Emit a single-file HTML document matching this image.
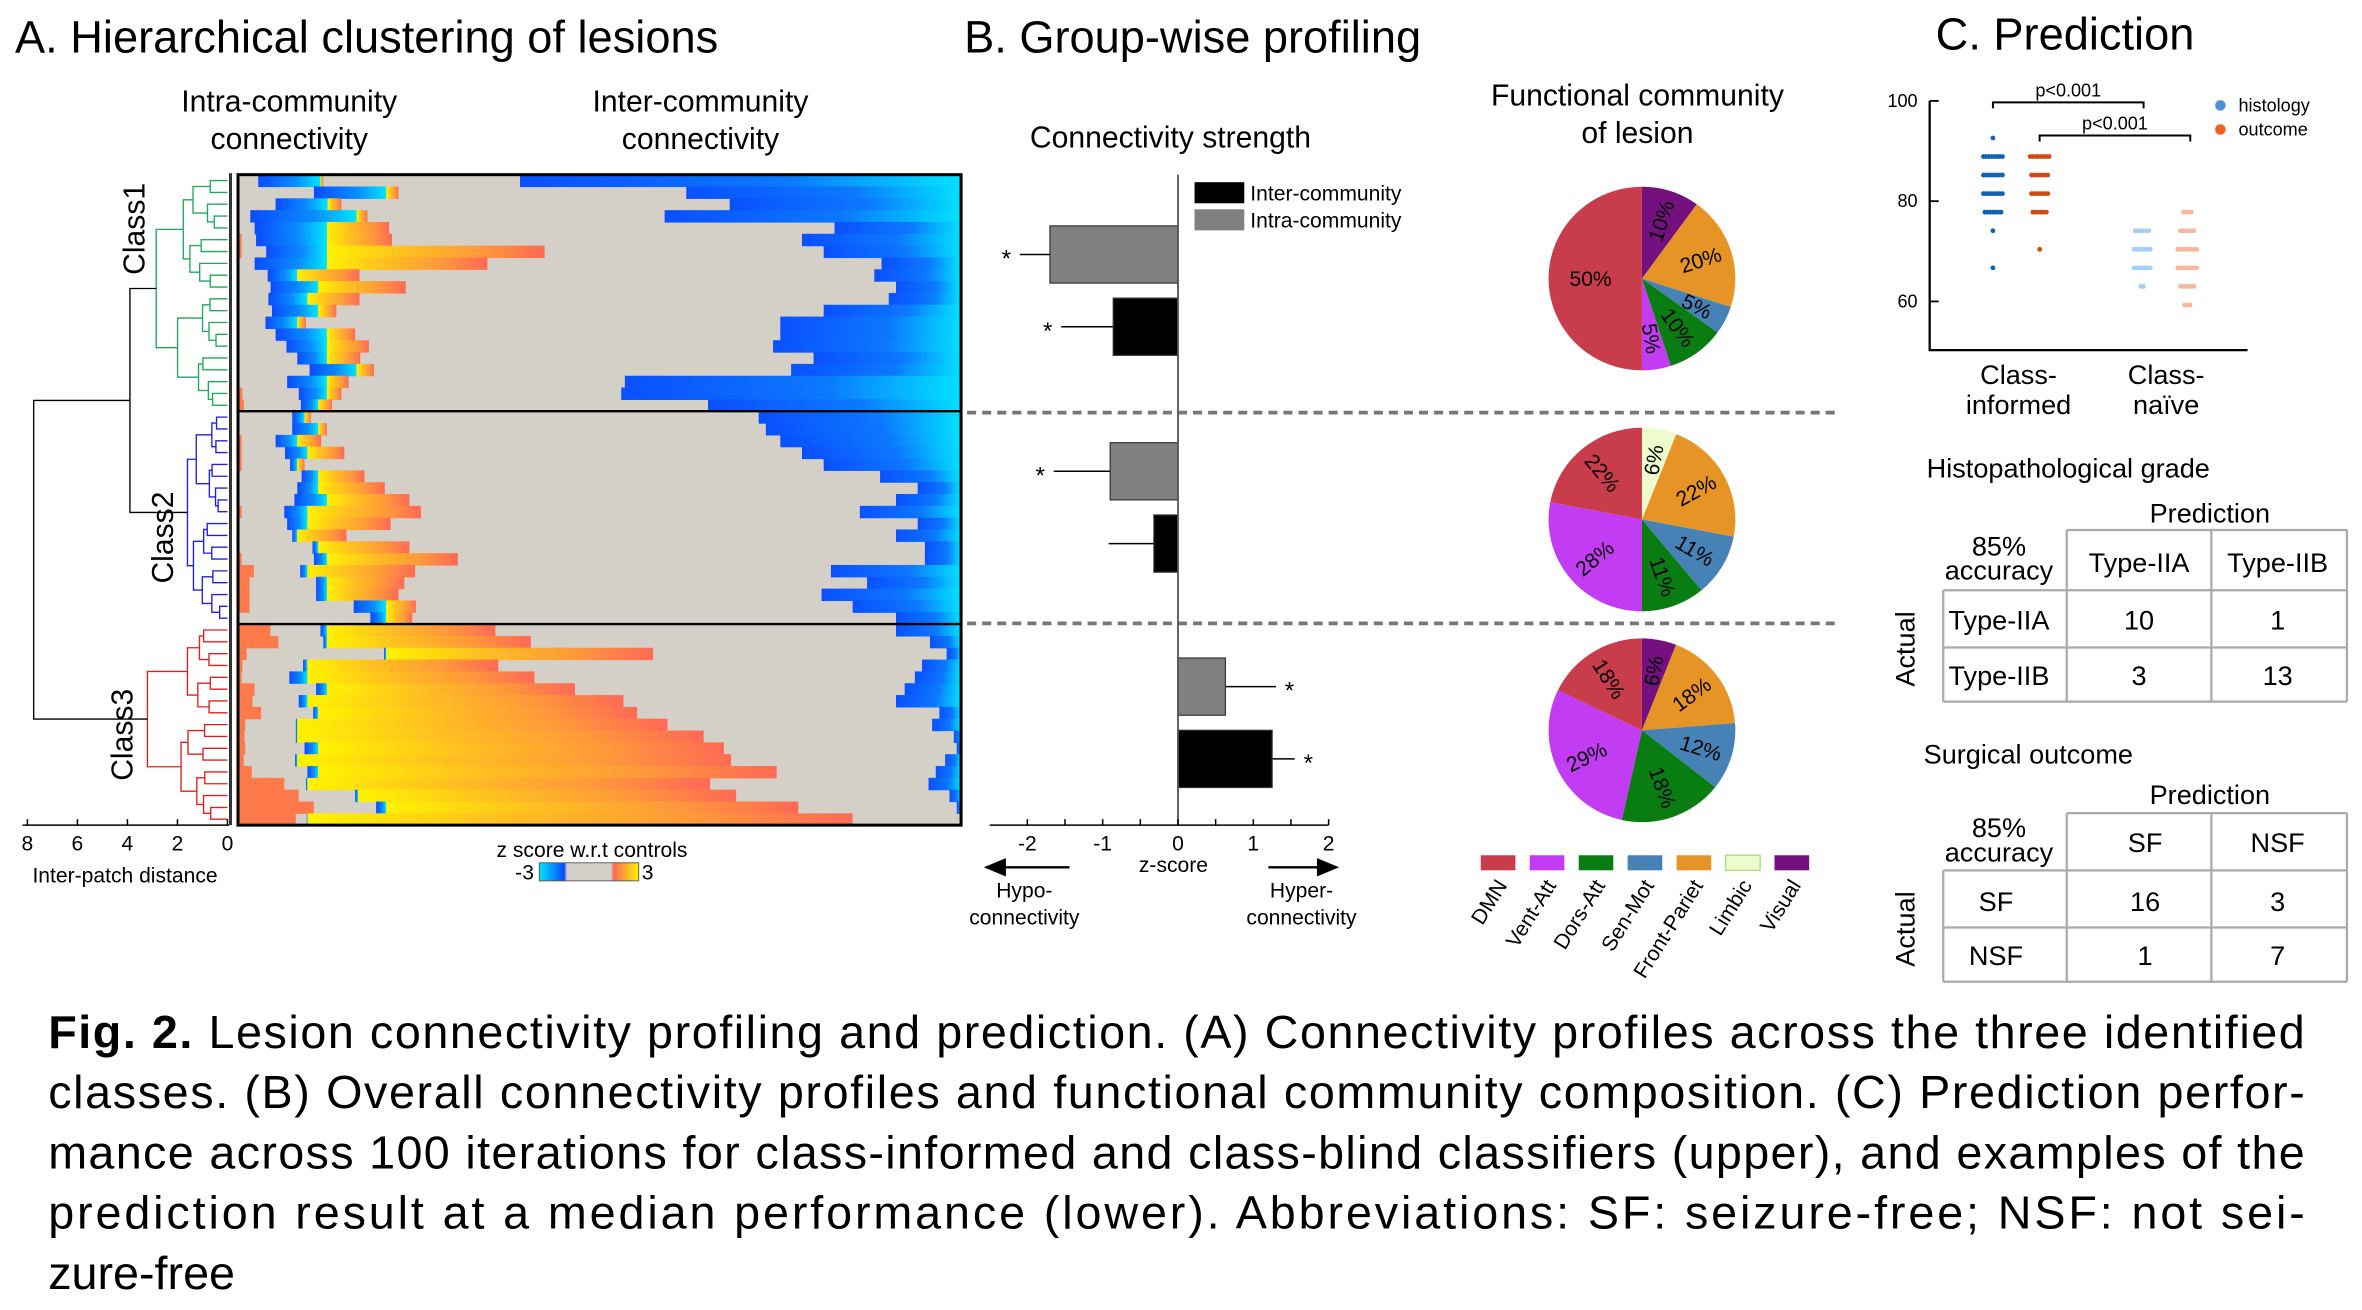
<!DOCTYPE html>
<html><head><meta charset="utf-8"><style>
html,body{margin:0;padding:0;background:#fff;}
svg{display:block;font-family:"Liberation Sans",Arial,sans-serif;}
</style></head><body>
<svg id="fig" xmlns="http://www.w3.org/2000/svg" width="2362" height="1310" viewBox="0 0 1568 870" preserveAspectRatio="none">
<defs>
<linearGradient id="gBlueIntra" x1="0" x2="1" y1="0" y2="0"><stop offset="0" stop-color="#0a4cff"/><stop offset="0.6" stop-color="#0a8cff"/><stop offset="1" stop-color="#00e6ff"/></linearGradient>
<linearGradient id="gBlueInter" x1="0" x2="1" y1="0" y2="0"><stop offset="0" stop-color="#0a50ff"/><stop offset="0.6" stop-color="#0c78ff"/><stop offset="1" stop-color="#00e2ff"/></linearGradient>
<linearGradient id="gHot" x1="0" x2="1" y1="0" y2="0"><stop offset="0" stop-color="#fff200"/><stop offset="0.35" stop-color="#ffc020"/><stop offset="0.7" stop-color="#ff9a3a"/><stop offset="1" stop-color="#ff6a55"/></linearGradient>
<linearGradient id="gBar" x1="0" x2="1" y1="0" y2="0"><stop offset="0" stop-color="#00e6ff"/><stop offset="0.25" stop-color="#0a4cff"/><stop offset="0.28" stop-color="#d4d0c8"/><stop offset="0.72" stop-color="#d4d0c8"/><stop offset="0.75" stop-color="#ff6a55"/><stop offset="1" stop-color="#fff200"/></linearGradient>
</defs>
<g id="panelA">
<text x="10" y="35" font-size="30">A. Hierarchical clustering of lesions</text>
<text x="192" y="74" font-size="20" text-anchor="middle">Intra-community</text>
<text x="192" y="99" font-size="20" text-anchor="middle">connectivity</text>
<text x="465" y="74" font-size="20" text-anchor="middle">Inter-community</text>
<text x="465" y="99" font-size="20" text-anchor="middle">connectivity</text>
<g id="heatmap"></g>
<g id="dendro"></g>
<line x1="15" y1="548" x2="152" y2="548" stroke="#000" stroke-width="1"/>
<line x1="153" y1="115" x2="153" y2="548" stroke="#333" stroke-width="2"/>
<g id="dendroTicks"></g>
<text x="83" y="586" font-size="14" text-anchor="middle">Inter-patch distance</text>
<text transform="translate(96,152) rotate(-90)" font-size="20" text-anchor="middle">Class1</text>
<text transform="translate(115,357) rotate(-90)" font-size="20" text-anchor="middle">Class2</text>
<text transform="translate(88,488) rotate(-90)" font-size="20" text-anchor="middle">Class3</text>
<text x="393" y="569" font-size="14" text-anchor="middle">z score w.r.t controls</text>
<text x="342" y="584" font-size="14">-3</text>
<rect x="358" y="573" width="66" height="12" fill="url(#gBar)" stroke="#555" stroke-width="0.6"/>
<text x="426" y="584" font-size="14">3</text>
</g>
<g id="panelB">
<text x="640" y="35" font-size="30">B. Group-wise profiling</text>
<text x="777" y="98" font-size="20" text-anchor="middle">Connectivity strength</text>
<line x1="642" y1="274" x2="1222" y2="274" stroke="#777" stroke-width="2.5" stroke-dasharray="6,4"/>
<line x1="642" y1="414" x2="1222" y2="414" stroke="#777" stroke-width="2.5" stroke-dasharray="6,4"/>
<g id="bars"></g>
<rect x="793" y="121" width="33" height="14" fill="#000"/>
<text x="830" y="133" font-size="14">Inter-community</text>
<rect x="793" y="139" width="33" height="14" fill="#808080"/>
<text x="830" y="151" font-size="14">Intra-community</text>
<text x="779" y="579" font-size="14" text-anchor="middle">z-score</text>
<path d="M710,576 L664,576 M655,576 L667,571 L667,581 Z" stroke="#000" stroke-width="1.5" fill="#000"/>
<path d="M842,576 L878,576 M887,576 L875,571 L875,581 Z" stroke="#000" stroke-width="1.5" fill="#000"/>
<text x="680" y="596" font-size="14" text-anchor="middle">Hypo-</text>
<text x="680" y="614" font-size="14" text-anchor="middle">connectivity</text>
<text x="864" y="596" font-size="14" text-anchor="middle">Hyper-</text>
<text x="864" y="614" font-size="14" text-anchor="middle">connectivity</text>
<text x="1087" y="70" font-size="20" text-anchor="middle">Functional community</text>
<text x="1087" y="95" font-size="20" text-anchor="middle">of lesion</text>
<g id="pies"></g>
<g id="pieLegend"></g>
</g>
<g id="panelC">
<text x="1285" y="33" font-size="30">C. Prediction</text>
<g id="dots"></g>
<text x="1340" y="255" font-size="18" text-anchor="middle">Class-</text>
<text x="1340" y="275" font-size="18" text-anchor="middle">informed</text>
<text x="1438" y="255" font-size="18" text-anchor="middle">Class-</text>
<text x="1438" y="275" font-size="18" text-anchor="middle">naïve</text>
<circle cx="1474" cy="70" r="3.5" fill="#4a90d8"/>
<text x="1486" y="74" font-size="12">histology</text>
<circle cx="1474" cy="86" r="3.5" fill="#f06020"/>
<text x="1486" y="90" font-size="12">outcome</text>
<text x="1279" y="317" font-size="18">Histopathological grade</text>
<g id="table1" font-size="18" text-anchor="middle">
<text x="1467" y="347">Prediction</text>
<path d="M1372,352 H1558 M1290,392 H1558 M1290,430 H1558 M1290,466 H1558 M1290,392 V466 M1372,352 V466 M1468,352 V466 M1558,352 V466" stroke="#aaa" stroke-width="1.5" fill="none"/>
<text x="1327" y="369">85%</text><text x="1327" y="385">accuracy</text>
<text x="1420" y="380">Type-IIA</text><text x="1512" y="380">Type-IIB</text>
<text x="1327" y="418">Type-IIA</text><text x="1420" y="418">10</text><text x="1512" y="418">1</text>
<text x="1327" y="455">Type-IIB</text><text x="1420" y="455">3</text><text x="1512" y="455">13</text>
<text transform="translate(1271,431) rotate(-90)">Actual</text>
</g>
<text x="1277" y="507" font-size="18">Surgical outcome</text>
<g id="table2" font-size="18" text-anchor="middle">
<text x="1467" y="534">Prediction</text>
<path d="M1372,540 H1558 M1290,578 H1558 M1290,616 H1558 M1290,652 H1558 M1290,578 V652 M1372,540 V652 M1468,540 V652 M1558,540 V652" stroke="#aaa" stroke-width="1.5" fill="none"/>
<text x="1327" y="556">85%</text><text x="1327" y="572">accuracy</text>
<text x="1424" y="566">SF</text><text x="1512" y="566">NSF</text>
<text x="1325" y="605">SF</text><text x="1424" y="605">16</text><text x="1512" y="605">3</text>
<text x="1325" y="641">NSF</text><text x="1424" y="641">1</text><text x="1512" y="641">7</text>
<text transform="translate(1271,617) rotate(-90)">Actual</text>
</g>
</g>
<g id="caption" font-size="31">
<text x="32" y="696" textLength="1498" lengthAdjust="spacing"><tspan font-weight="bold">Fig. 2.</tspan> Lesion connectivity profiling and prediction. (A) Connectivity profiles across the three identified</text>
<text x="32" y="736" textLength="1498" lengthAdjust="spacing">classes. (B) Overall connectivity profiles and functional community composition. (C) Prediction perfor-</text>
<text x="32" y="776" textLength="1498" lengthAdjust="spacing">mance across 100 iterations for class-informed and class-blind classifiers (upper), and examples of the</text>
<text x="32" y="816" textLength="1498" lengthAdjust="spacing">prediction result at a median performance (lower). Abbreviations: SF: seizure-free; NSF: not sei-</text>
<text x="32" y="856">zure-free</text>
</g>
</svg>
<script>
// ---------- Heatmap data (percent of heatmap width) ----------
const rowClass = [1,1,1,1,1,1,1,1,1,1,1,1,1,1,1,1,1,1,1,1, 2,2,2,2,2,2,2,2,2,2,2,2,2,2,2,2,2,2, 3,3,3,3,3,3,3,3,3,3,3,3,3,3,3,3,3];
const edgeHot = [0,0,0,0,0,0.5,0.5,0,0,0,0,0,0,0,0,0,0,0,0.6,0.8, 0,0,0.5,0.5,0.5,0,0,0,0.5,0,0,0,0.5,2.2,1.6,1.6,1.6,0, 4.5,5.6,1.2,0.6,0.5,2.3,2,3.2,1,0.9,1,0.8,1.9,6.4,8.4,10.5,8];
const intraBlueStart = [2.8,10.5,5.2,1.7,2.3,2.5,3.9,2.3,4.1,4.5,4.2,4.7,3.8,5.2,6.7,8.2,9.9,6.8,8.4,8.7, 7.5,7.5,5.2,6.5,7.2,8.8,8.2,7.8,6.4,6.8,7.5,10.3,10.5,8.6,10.8,10.8,16,18.3, 11.4,11.8,20.2,9,7.1,10.8,8.4,10.4,8,8,9.2,7.9,9.6,9.4,16.2,19.1,9.5];
const intraHotStart = [11.4,20.5,12.4,16.4,12.3,12.3,12.3,12.3,8.2,11.1,9.6,11.1,8.2,12.3,12.3,12.3,16.4,12.3,12.3,11.1, 9.2,11.1,8.2,9.6,8.2,11.1,11.1,12.3,9.6,9.6,8.2,11.1,12.3,9.6,12.3,12.3,20.5,20.5, 12.3,12.3,20.5,9.6,9.6,12.3,9.6,11.1,8.2,8.2,11.1,8.2,11.1,9.6,16.6,20.5,9.6];
const intraHotEnd = [11.8,22.2,14.3,17.9,20.9,21.3,42.4,34.5,16.8,23.2,16.8,13.6,9.4,16.2,18.1,16.9,18.8,15.3,14.3,13, 10.1,12.3,11.5,14.7,9.2,17.5,20.3,23.7,25.3,21.1,15,23.7,30.4,24.5,23,22.2,24.6,24.1, 35.6,40.5,57.4,36,41,46.6,53.3,55.2,59.4,64.4,67.2,68.2,74.5,65.3,68.9,77.5,85];
const interStart = [39,62,68,59,82.5,78,81,89,88,91,90,81,75,75,74,79.6,76.5,53.5,53,65, 72,73,75,78,81,88.8,94,91,86,94,91,95,95,82,87,80.7,85,91, 91,95.7,98,94.6,93.6,92.2,91,97,96,99,99.4,97.8,96.5,95.5,98.4,99.4,100];

// ---------- Dendrogram class roots (inter-patch distance) ----------
const classRootDist = [2.85, 1.6, 3.2];
const mergeDist12 = 3.9;
const mergeDistAll = 7.75;
const distTicks = [8,6,4,2,0];

// ---------- Bar chart data ----------
const barGroups = ['class1','class1','class2','class2','class3','class3'];
const barTypes = ['intra','inter','intra','inter','intra','inter'];
const barValues = [-1.7,-0.86,-0.9,-0.32,0.63,1.25];
const barErrors = [-2.1,-1.55,-1.65,-0.92,1.3,1.55];
const barSig = [1,1,1,0,1,1];
const zTicks = [-2,-1,0,1,2];

// ---------- Pie data ----------
const communities = ['DMN','Vent-Att','Dors-Att','Sen-Mot','Front-Pariet','Limbic','Visual'];
const communityColors = ['#c83c4b','#c13cf2','#0a7d12','#4682b6','#e69426','#ecfccc','#74117f'];
const pieOrder = ['Visual','Limbic','Front-Pariet','Sen-Mot','Dors-Att','Vent-Att','DMN'];
const pie1 = [10,0,20,5,10,5,50];
const pie2 = [0,6,22,11,11,28,22];
const pie3 = [6,0,18,12,18,29,18];

// ---------- Accuracy dot data ----------
const accTicks = [100,80,60];
const infHistVals = [92.6,88.9,85.2,81.5,77.8,74.1,66.7];
const infHistCounts = [1,8,8,8,7,1,1];
const infOutVals = [88.9,85.2,81.5,77.8,70.4];
const infOutCounts = [8,7,7,6,1];
const naiHistVals = [74.1,70.4,66.7,63.0];
const naiHistCounts = [6,7,7,2];
const naiOutVals = [77.8,74.1,70.4,66.7,63.0,59.3];
const naiOutCounts = [4,6,8,8,6,3];

const NS = 'http://www.w3.org/2000/svg';
function mk(tag, attrs, parent){
  const e = document.createElementNS(NS, tag);
  for (const k in attrs) e.setAttribute(k, attrs[k]);
  parent.appendChild(e);
  return e;
}

// ---------- Heatmap ----------
const HM = {x0:158, x1:638, y0:116, y1:548};
const nRows = rowClass.length;
const rowH = (HM.y1 - HM.y0) / nRows;
const hx = p => HM.x0 + p / 100 * (HM.x1 - HM.x0);
const hy = i => HM.y0 + i * rowH;
const hm = document.getElementById('heatmap');
let bg = mk('rect', {x:HM.x0, y:HM.y0, width:HM.x1-HM.x0, height:HM.y1-HM.y0, fill:'#d4d0c8'}, hm);


for (let i = 0; i < nRows; i++) {
  const y = hy(i), h = rowH + 0.4;
  if (edgeHot[i] > 0) {
    let r = mk('rect', {x:hx(0), y:y, width:hx(edgeHot[i])-hx(0), height:h, fill:'#ff7a4a'}, hm);
    
    
  }
  let b = mk('rect', {x:hx(intraBlueStart[i]), y:y, width:Math.max(0.6, hx(intraHotStart[i])-hx(intraBlueStart[i])), height:h, fill:'url(#gBlueIntra)'}, hm);
  
  
  let t = mk('rect', {x:hx(intraHotStart[i]), y:y, width:Math.max(0, hx(intraHotEnd[i])-hx(intraHotStart[i])), height:h, fill:'url(#gHot)'}, hm);
  
  
  if (interStart[i] < 100) {
    let c = mk('rect', {x:hx(interStart[i]), y:y, width:hx(100)-hx(interStart[i]), height:h, fill:'url(#gBlueInter)'}, hm);
    
    
  }
}
let cls1End = rowClass.lastIndexOf(1) + 1, cls2End = rowClass.lastIndexOf(2) + 1;
[cls1End, cls2End].forEach(k => {
  let l = mk('line', {x1:HM.x0, x2:HM.x1, y1:hy(k), y2:hy(k), stroke:'#000', 'stroke-width':1.6}, hm);
  
  
});
let fr = mk('rect', {x:HM.x0, y:HM.y0, width:HM.x1-HM.x0, height:HM.y1-HM.y0, fill:'none', stroke:'#000', 'stroke-width':2}, hm);



// ---------- Dendrogram ----------
const dx = d => 151 - d * 16.6;
const dg = document.getElementById('dendro');
const ratios = [0.62,0.78,0.5,0.7,0.85,0.58,0.74,0.66];
function tree(a, b, hgt, color, depth){
  if (b - a === 1) return {y: hy(a) + rowH/2, d: 0};
  const m = a + Math.floor((b - a) / 2);
  const L = tree(a, m, hgt * ratios[depth % 8], color, depth + 1);
  const R = tree(m, b, hgt * ratios[(depth + 3) % 8], color, depth + 2);
  const X = dx(hgt);
  let p = mk('path', {d:`M${dx(L.d)},${L.y} H${X} V${R.y} H${dx(R.d)}`, fill:'none', stroke:color, 'stroke-width':0.9}, dg);
  
  
  return {y:(L.y + R.y) / 2, d:hgt};
}
const c1 = tree(0, cls1End, classRootDist[0], '#1faa5a', 0);
const c2 = tree(cls1End, cls2End, classRootDist[1], '#2020e0', 1);
const c3 = tree(cls2End, nRows, classRootDist[2], '#e02020', 2);
let m12 = mk('path', {d:`M${dx(c1.d)},${c1.y} H${dx(mergeDist12)} V${c2.y} H${dx(c2.d)}`, fill:'none', stroke:'#000', 'stroke-width':0.9}, dg);


const y12 = (c1.y + c2.y) / 2;
let mall = mk('path', {d:`M${dx(mergeDist12)},${y12} H${dx(mergeDistAll)} V${c3.y} H${dx(c3.d)}`, fill:'none', stroke:'#000', 'stroke-width':0.9}, dg);


const dt = document.getElementById('dendroTicks');
distTicks.forEach(v => {
  let tk = mk('line', {x1:dx(v), x2:dx(v), y1:548, y2:544, stroke:'#000'}, dt);
  
  
  let tl = mk('text', {x:dx(v), y:565, 'font-size':14, 'text-anchor':'middle'}, dt);
  
  
  tl.textContent = v;
});

// ---------- Bar chart ----------
const zx = v => 782 + v * 50;
const barTop = [150,198,294,342,437,485];
const barH = 38;
const bg2 = document.getElementById('bars');
for (let i = 0; i < barValues.length; i++) {
  const y = barTop[i], v = barValues[i], e = barErrors[i];
  let el = mk('line', {x1:zx(v), x2:zx(e), y1:y+barH/2, y2:y+barH/2, stroke:'#000', 'stroke-width':1}, bg2);
  
  
  let r = mk('rect', {x:Math.min(zx(0), zx(v)), y:y, width:Math.abs(zx(v)-zx(0)), height:barH, fill:barTypes[i]==='inter'?'#000':'#808080', stroke:'#333', 'stroke-width':0.8}, bg2);
  
  
  if (barSig[i]) {
    let s = mk('text', {x:zx(e) + (e < 0 ? -9 : 9), y:y+barH/2+8, 'font-size':16, 'text-anchor':'middle'}, bg2);
    
    
    s.textContent = '*';
  }
}
let zl = mk('line', {x1:zx(0), x2:zx(0), y1:116, y2:548, stroke:'#555', 'stroke-width':1.2}, bg2);


let xa = mk('line', {x1:657, x2:zx(2), y1:548, y2:548, stroke:'#000', 'stroke-width':1}, bg2);


for (let v = -2; v <= 2; v += 0.5) {
  let tk = mk('line', {x1:zx(v), x2:zx(v), y1:548, y2:544, stroke:'#000'}, bg2);
  
  
}
zTicks.forEach(v => {
  let t = mk('text', {x:zx(v), y:565, 'font-size':14, 'text-anchor':'middle'}, bg2);
  
  
  t.textContent = v;
});

// ---------- Pies ----------
const pg = document.getElementById('pies');
const pieCenters = [185, 345, 485];
[pie1, pie2, pie3].forEach((vals, pi) => {
  const cx = 1090, cy = pieCenters[pi], rx = 62, ry = 61;
  const tot = vals.reduce((a, b) => a + b, 0);
  let ang = 0;
  vals.forEach((v, k) => {
    if (v <= 0) return;
    const a0 = ang, a1 = ang + v / tot * 360; ang = a1;
    const p = a => [cx + rx * Math.sin(a * Math.PI / 180), cy - ry * Math.cos(a * Math.PI / 180)];
    const [x0, y0] = p(a0), [x1, y1] = p(a1);
    const col = communityColors[communities.indexOf(pieOrder[k])];
    let s = mk('path', {d:`M${cx},${cy} L${x0},${y0} A${rx},${ry} 0 ${a1 - a0 > 180 ? 1 : 0} 1 ${x1},${y1} Z`, fill:col}, pg);
    
    
    const mid = (a0 + a1) / 2;
    const lr = v >= 40 ? 0.55 : 0.66;
    const lx = cx + rx * lr * Math.sin(mid * Math.PI / 180), ly = cy - ry * lr * Math.cos(mid * Math.PI / 180);
    let rot = mid - 90; if (rot > 90) rot -= 180;
    if (v >= 40) rot = 0;
    let t = mk('text', {x:0, y:5, 'font-size':14, 'text-anchor':'middle', transform:`translate(${lx},${ly}) rotate(${rot})`}, pg);
    
    
    t.textContent = v + '%';
  });
});
const pl = document.getElementById('pieLegend');
communities.forEach((c, k) => {
  const x = 983 + k * 32.5;
  let r = mk('rect', {x:x, y:568, width:23, height:10, fill:communityColors[k], stroke:c==='Limbic'?'#b8dc8a':'none', 'stroke-width':1}, pl);
  
  
  let t = mk('text', {x:0, y:0, 'font-size':14, 'text-anchor':'end', transform:`translate(${x + 18},${588}) rotate(-58)`}, pl);
  
  
  t.textContent = c;
});

// ---------- Accuracy plot ----------
const ay = v => 67 + (100 - v) * 3.33;
const dots = document.getElementById('dots');
let yaxis = mk('path', {d:`M1281,${ay(100)} V232.5 H1492`, fill:'none', stroke:'#000', 'stroke-width':1.5}, dots);


accTicks.forEach(v => {
  let tk = mk('line', {x1:1281, x2:1287, y1:ay(v), y2:ay(v), stroke:'#000', 'stroke-width':1.2}, dots);
  
  
  let t = mk('text', {x:1273, y:ay(v) + 4, 'font-size':12, 'text-anchor':'end'}, dots);
  
  
  t.textContent = v;
});
const groups = [[infHistVals, infHistCounts, 1323, '#1062b4'], [infOutVals, infOutCounts, 1354, '#d24a12'], [naiHistVals, naiHistCounts, 1422, '#a6cff8'], [naiOutVals, naiOutCounts, 1452, '#f8b8a0']];
groups.forEach(([vals, cnts, cx, col]) => {
  vals.forEach((v, i) => {
    const n = cnts[i];
    for (let j = 0; j < n; j++) {
      let d = mk('circle', {cx:cx + (j - (n - 1) / 2) * 1.8, cy:ay(v), r:1.6, fill:col}, dots);
      
      
    }
  });
});
let br1 = mk('path', {d:'M1323,72 V68 H1423 V72', fill:'none', stroke:'#000', 'stroke-width':1.3}, dots);


let bt1 = mk('text', {x:1373, y:64, 'font-size':12, 'text-anchor':'middle'}, dots);


bt1.textContent = 'p<0.001';
let br2 = mk('path', {d:'M1354,94 V90 H1454 V94', fill:'none', stroke:'#000', 'stroke-width':1.3}, dots);


let bt2 = mk('text', {x:1404, y:86, 'font-size':12, 'text-anchor':'middle'}, dots);


bt2.textContent = 'p<0.001';
</script>
</body></html>
